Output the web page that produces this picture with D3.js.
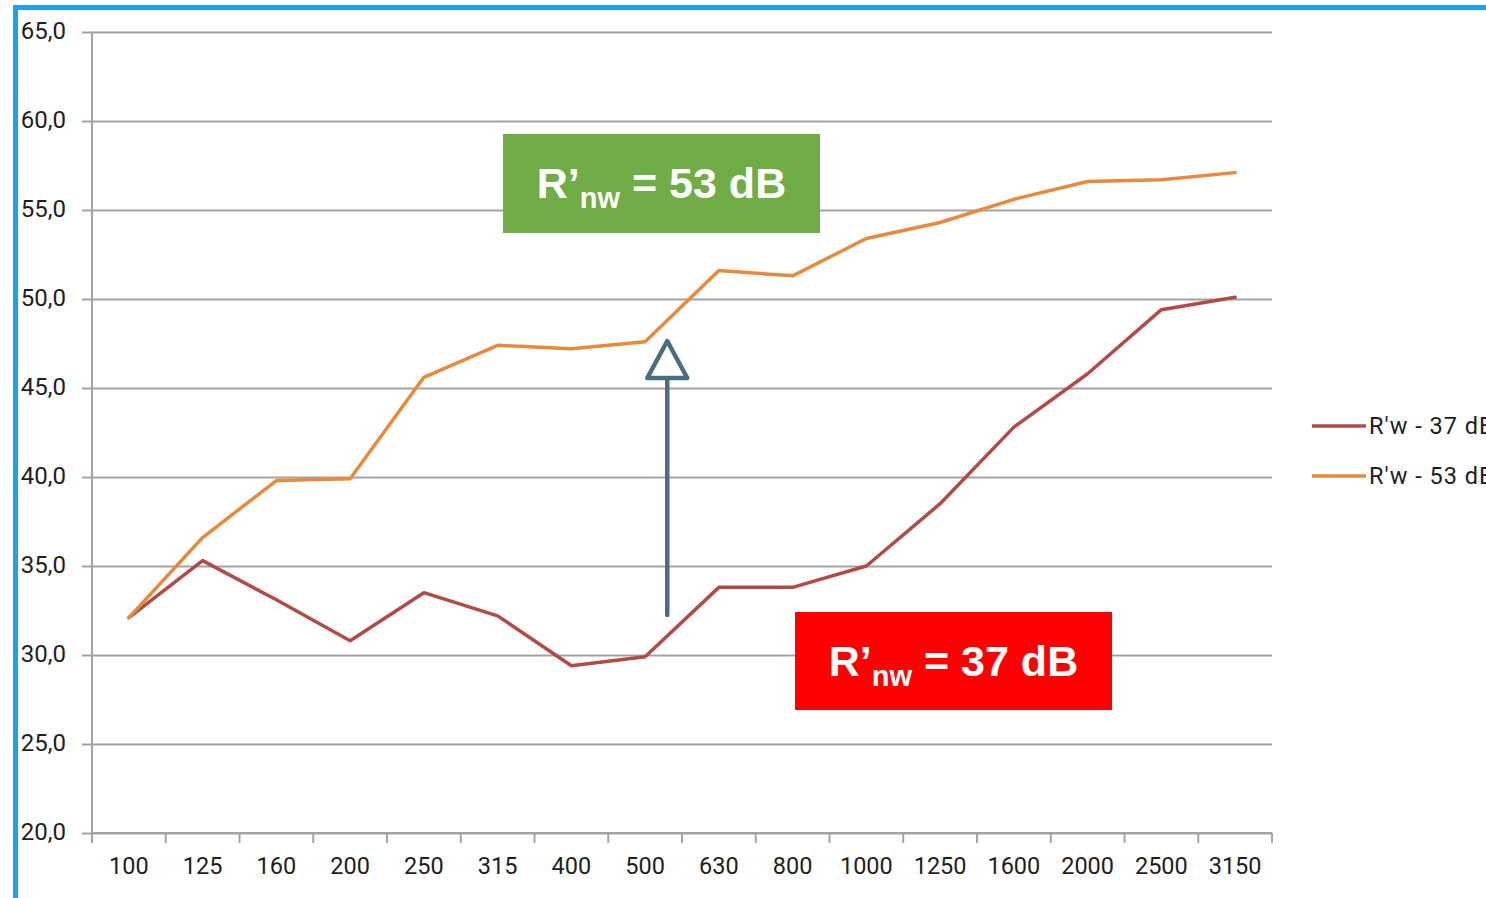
<!DOCTYPE html>
<html>
<head>
<meta charset="utf-8">
<script src="https://cdn.jsdelivr.net/npm/d3@7"></script>
<style>
  html, body { margin: 0; padding: 0; background: #fff; overflow: hidden; }
  svg { display: block; }
</style>
</head>
<body>
<svg id="chart" width="1486" height="898"></svg>
<script>
// Third-octave band centre frequencies (Hz)
const frequencies = ["100", "125", "160", "200", "250", "315", "400", "500",
  "630", "800", "1000", "1250", "1600", "2000", "2500", "3150"];

// Apparent sound reduction index per band (dB)
const seriesLow = [32.1, 35.3, 33.1, 30.8, 33.5, 32.2, 29.4, 29.9,
  33.8, 33.8, 35.0, 38.5, 42.8, 45.8, 49.4, 50.1];
const seriesHigh = [32.1, 36.6, 39.8, 39.9, 45.6, 47.4, 47.2, 47.6,
  51.6, 51.3, 53.4, 54.3, 55.6, 56.6, 56.7, 57.1];

const seriesNames = ["R'w - 37 dB", "R'w - 53 dB"];
const yTicks = [20, 25, 30, 35, 40, 45, 50, 55, 60, 65];
const ratingLow = 37;
const ratingHigh = 53;

const svg = d3.select("#chart");
const W = 1486, H = 898;

const plot = { left: 92, right: 1272, top: 32, bottom: 833 };

const x = d3.scaleBand().domain(frequencies).range([plot.left, plot.right]).padding(0);
const y = d3.scaleLinear().domain([20, 65]).range([plot.bottom, plot.top]);

const gridColor = "#a3a3a3";
const textColor = "#1e1e1e";
const labelFont = "Roboto, 'Open Sans', sans-serif";

// Blue frame along the top and left edges
svg.append("rect")
  .attr("x", 15.5).attr("y", 7.5)
  .attr("width", W + 20).attr("height", H + 20)
  .attr("fill", "none").attr("stroke", "#1ea1eb").attr("stroke-width", 5);

// Horizontal gridlines and Y axis
const yAxis = d3.axisLeft(y)
  .tickValues(yTicks)
  .tickSize(-(plot.right - plot.left))
  .tickFormat(d => d3.format(".1f")(d).replace(".", ","));

const gy = svg.append("g")
  .attr("transform", `translate(${plot.left},0)`)
  .call(yAxis);
gy.select(".domain").remove();
gy.selectAll(".tick line")
  .attr("x1", -10)
  .attr("stroke", gridColor).attr("stroke-width", 2);
gy.selectAll(".tick text")
  .attr("x", -26)
  .attr("dy", "0.28em")
  .attr("fill", textColor)
  .style("font-family", labelFont)
  .style("font-size", "24px");

// Vertical axis line
svg.append("line")
  .attr("x1", plot.left).attr("x2", plot.left)
  .attr("y1", plot.top).attr("y2", plot.bottom)
  .attr("stroke", gridColor).attr("stroke-width", 2);

// X axis with category boundary ticks
const gx = svg.append("g")
  .attr("transform", `translate(0,${plot.bottom})`);
gx.append("line")
  .attr("x1", plot.left).attr("x2", plot.right)
  .attr("stroke", gridColor).attr("stroke-width", 2);
const boundaries = frequencies.map(f => x(f)).concat([x(frequencies[frequencies.length - 1]) + x.bandwidth()]);
gx.selectAll("line.bound").data(boundaries).join("line")
  .attr("class", "bound")
  .attr("x1", d => d).attr("x2", d => d)
  .attr("y1", 0).attr("y2", 10)
  .attr("stroke", gridColor).attr("stroke-width", 2);
gx.selectAll("text").data(frequencies).join("text")
  .attr("x", d => x(d) + x.bandwidth() / 2)
  .attr("y", 33)
  .attr("dy", "0.35em")
  .attr("text-anchor", "middle")
  .attr("fill", textColor)
  .style("font-family", labelFont)
  .style("font-size", "23.5px")
  .text(d => d);

// Data lines
const line = d3.line()
  .x((d, i) => x(frequencies[i]) + x.bandwidth() / 2)
  .y(d => y(d));

const colors = ["#b24a46", "#e88a3c"];
[seriesLow, seriesHigh].forEach((s, k) => {
  svg.append("path")
    .datum(s)
    .attr("d", line)
    .attr("fill", "none")
    .attr("stroke", colors[k])
    .attr("stroke-width", 3.5)
    .attr("stroke-linejoin", "round")
    .attr("stroke-linecap", "round");
});

// Legend
const legend = svg.append("g");
seriesNames.forEach((name, k) => {
  const ly = 426 + k * 50;
  legend.append("line")
    .attr("x1", 1312).attr("x2", 1366)
    .attr("y1", ly).attr("y2", ly)
    .attr("stroke", colors[k]).attr("stroke-width", 3.5);
  legend.append("text")
    .attr("x", 1369).attr("y", ly)
    .attr("dy", "0.35em")
    .attr("fill", textColor)
    .style("font-family", labelFont)
    .style("font-size", "23.5px")
    .style("letter-spacing", "1px")
    .text(name);
});

// Improvement arrow between the two ratings
const arrowX = x("630") - x.bandwidth() * 0.2;
const arrow = svg.append("g")
  .attr("stroke", "#4a6d82")
  .attr("stroke-width", 4.5)
  .attr("stroke-linejoin", "round")
  .attr("stroke-linecap", "round");
arrow.append("line")
  .attr("x1", arrowX).attr("x2", arrowX)
  .attr("y1", 615).attr("y2", 378);
arrow.append("path")
  .attr("d", `M${arrowX},341 L${arrowX + 20},378 L${arrowX - 20},378 Z`)
  .attr("fill", "#fff");

// Rating call-out boxes
function ratingBox(x0, y0, w, h, fill, value) {
  const g = svg.append("g");
  g.append("rect")
    .attr("x", x0).attr("y", y0).attr("width", w).attr("height", h)
    .attr("fill", fill);
  const t = g.append("text")
    .attr("x", x0 + w / 2)
    .attr("y", y0 + 64)
    .attr("text-anchor", "middle")
    .attr("fill", "#fff")
    .style("font-family", "'Liberation Sans', Arial, sans-serif")
    .style("font-weight", "bold")
    .style("font-size", "43px");
  t.append("tspan").text("R’");
  t.append("tspan").attr("dy", 10).style("font-size", "29px").text("nw");
  t.append("tspan").attr("dy", -10).text(` = ${value} dB`);
}
ratingBox(503, 134, 317, 99, "#70ad47", ratingHigh);
ratingBox(795, 612, 317, 98, "#ff0000", ratingLow);
</script>
</body>
</html>
